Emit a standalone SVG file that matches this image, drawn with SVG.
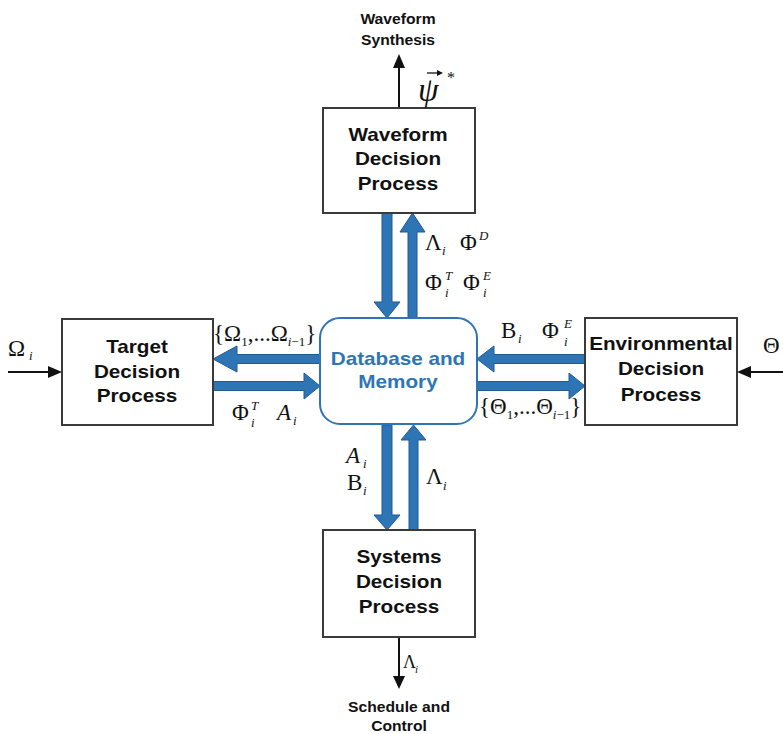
<svg xmlns="http://www.w3.org/2000/svg" width="783" height="734" viewBox="0 0 783 734">
<defs>
<style>
.box{fill:#fff;stroke:#3a3a3a;stroke-width:2}
.db{fill:#fff;stroke:#2e75b6;stroke-width:2}
.lbl{font-family:"Liberation Sans",Arial,sans-serif;font-weight:bold;font-size:18px;fill:#111;text-anchor:middle}
.dbl{font-family:"Liberation Sans",Arial,sans-serif;font-weight:bold;font-size:18px;fill:#2e75b6;text-anchor:middle}
.ext{font-family:"Liberation Sans",Arial,sans-serif;font-weight:bold;font-size:14px;fill:#111;text-anchor:middle}
.m{font-family:"Liberation Serif","Times New Roman",serif;font-size:23px;fill:#111}
.s{font-family:"Liberation Serif","Times New Roman",serif;font-size:13px;font-style:italic;fill:#111}
.n{font-size:13px;font-style:normal}
.it{font-style:italic}
.ba{fill:#2e75b6;stroke:#1f5a91;stroke-width:1}
.ln{stroke:#111;stroke-width:2;fill:none}
.ah{fill:#111}
</style>
</defs>

<g id="connectors">
  <path class="ba" d="M382,213 H392 V302 H400 L387,318 L374,302 H382 Z"/>
  <path class="ba" d="M408,318 H417 V232 H425 L412.5,213 L400,232 H408 Z"/>
  <path class="ba" d="M382,425 H392 V515 H400 L387,530 L374,515 H382 Z"/>
  <path class="ba" d="M409,530 H418 V440 H426 L413.5,425 L401,440 H409 Z"/>
  <path class="ba" d="M320,354.5 V363.5 H237 V372 L213,359 L237,346 V354.5 Z"/>
  <path class="ba" d="M213,381.5 V390.5 H304 V399 L320,386 L304,373 V381.5 Z"/>
  <path class="ba" d="M585,354.5 V363.5 H494 V372 L477,359 L494,346 V354.5 Z"/>
  <path class="ba" d="M477,381.5 V390.5 H569 V399 L585,386 L569,373 V381.5 Z"/>
  <line class="ln" x1="399" y1="108" x2="399" y2="66"/>
  <path class="ah" d="M399,54 L405,68 L393,68 Z"/>
  <line class="ln" x1="399" y1="637" x2="399" y2="678"/>
  <path class="ah" d="M399,689 L405,676 L393,676 Z"/>
  <line class="ln" x1="8" y1="372" x2="50" y2="372"/>
  <path class="ah" d="M62,372 L48,366 L48,378 Z"/>
  <line class="ln" x1="783" y1="372" x2="750" y2="372"/>
  <path class="ah" d="M737,372 L751,366 L751,378 Z"/>
</g>

<g id="waveform">
  <rect class="box" x="323" y="108" width="152" height="105"/>
  <text class="lbl" transform="translate(398 0) scale(1.15 1)"><tspan x="0" y="141">Waveform</tspan><tspan x="0" y="165">Decision</tspan><tspan x="0" y="190">Process</tspan></text>
</g>

<g id="target">
  <rect class="box" x="62" y="319" width="151" height="106"/>
  <text class="lbl" transform="translate(137 0) scale(1.15 1)"><tspan x="0" y="353">Target</tspan><tspan x="0" y="378">Decision</tspan><tspan x="0" y="402">Process</tspan></text>
</g>

<g id="environmental">
  <rect class="box" x="585" y="318" width="152" height="107"/>
  <text class="lbl" transform="translate(661 0) scale(1.15 1)"><tspan x="0" y="350">Environmental</tspan><tspan x="0" y="375">Decision</tspan><tspan x="0" y="401">Process</tspan></text>
</g>

<g id="systems">
  <rect class="box" x="323" y="530" width="152" height="107"/>
  <text class="lbl" transform="translate(399 0) scale(1.15 1)"><tspan x="0" y="563">Systems</tspan><tspan x="0" y="588">Decision</tspan><tspan x="0" y="613">Process</tspan></text>
</g>

<g id="database">
  <rect class="db" x="320" y="318" width="157" height="106" rx="20" ry="20"/>
  <text class="dbl" transform="translate(398 0) scale(1.15 1)"><tspan x="0" y="365">Database and</tspan><tspan x="0" y="388">Memory</tspan></text>
</g>

<g id="external-labels">
  <text class="ext" transform="translate(398 0) scale(1.12 1)"><tspan x="0" y="24">Waveform</tspan><tspan x="0" y="45">Synthesis</tspan></text>
  <text class="ext" transform="translate(399 0) scale(1.12 1)"><tspan x="0" y="712">Schedule and</tspan><tspan x="0" y="731">Control</tspan></text>
</g>

<g id="math-labels">
  <text class="m it" x="418" y="101" style="font-size:33px">ψ</text>
  <line x1="427" y1="73" x2="440" y2="73" stroke="#111" stroke-width="1.3"/>
  <path class="ah" d="M443,73 L437,70 L437,76 Z"/>
  <text class="m" x="447" y="83" style="font-size:16px">*</text>

  <text class="m" x="425" y="250">Λ</text><text class="s" x="442" y="255">i</text>
  <text class="m" x="460" y="250">Φ</text><text class="s" x="479" y="240">D</text>
  <text class="m" x="425" y="290">Φ</text><text class="s" x="445" y="280">T</text><text class="s" x="445" y="297">i</text>
  <text class="m" x="463" y="290">Φ</text><text class="s" x="483" y="280">E</text><text class="s" x="483" y="297">i</text>

  <text class="m" x="8" y="356">Ω</text><text class="s" x="29" y="360">i</text>
  <text class="m" x="213" y="341">{Ω<tspan class="n" dy="5">1</tspan><tspan dy="-5">,...Ω</tspan><tspan class="s" dy="5">i</tspan><tspan class="n">−1</tspan><tspan dy="-5">}</tspan></text>
  <text class="m" x="232" y="420">Φ</text><text class="s" x="251" y="410">T</text><text class="s" x="251" y="427">i</text>
  <text class="m it" x="277" y="420">A</text><text class="s" x="293" y="425">i</text>

  <text class="m" x="501" y="338">B</text><text class="s" x="518" y="343">i</text>
  <text class="m" x="542" y="338">Φ</text><text class="s" x="564" y="328">E</text><text class="s" x="564" y="346">i</text>
  <text class="m" x="479" y="414">{Θ<tspan class="n" dy="5">1</tspan><tspan dy="-5">,...Θ</tspan><tspan class="s" dy="5">i</tspan><tspan class="n">−1</tspan><tspan dy="-5">}</tspan></text>
  <text class="m" x="763" y="353">Θ</text>

  <text class="m it" x="346" y="463">A</text><text class="s" x="363" y="468">i</text>
  <text class="m" x="347" y="490">B</text><text class="s" x="363" y="495">i</text>
  <text class="m" x="426" y="484">Λ</text><text class="s" x="443" y="490">i</text>
  <text class="m" x="403" y="668" style="font-size:18px">Λ</text><text class="s" x="415" y="673" style="font-size:11px">i</text>
</g>
</svg>
